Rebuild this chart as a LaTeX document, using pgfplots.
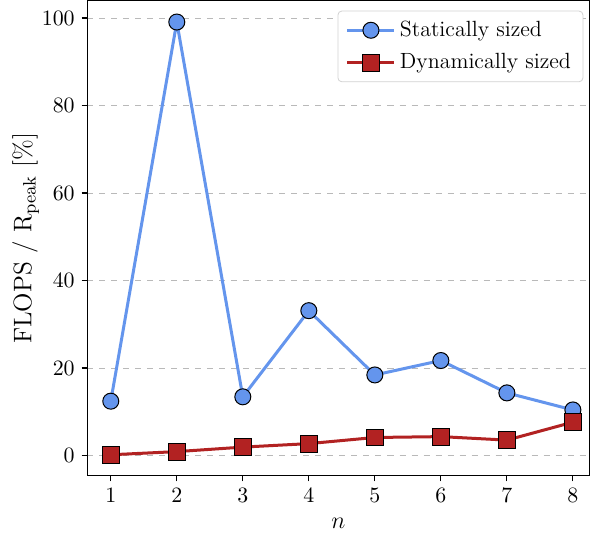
\documentclass[border=0pt]{standalone}
\usepackage{pgfplots}
\pgfplotsset{compat=1.18}
\definecolor{cblue}{RGB}{100,149,237}
\definecolor{cred}{RGB}{178,34,34}
\begin{document}
\begin{tikzpicture}
\begin{axis}[
  scale only axis,
  width=250.9pt, height=237.5pt,
  xmin=0.645, xmax=8.25,
  ymin=-4.67, ymax=104.0,
  xtick={1,2,3,4,5,6,7,8},
  ytick={0,20,40,60,80,100},
  tick align=outside,
  tick pos=left,
  major tick length=2.8pt,
  ymajorgrids,
  grid style={gray!55, dashed, line width=0.4pt},
  axis line style={line width=0.6pt},
  tick style={black, line width=0.6pt},
  ticklabel style={font=\fontsize{10.7}{12}\selectfont},
  xlabel={$n$},
  xlabel style={font=\fontsize{13}{15}\selectfont, at={(axis description cs:0.5,0)}, anchor=center, yshift=-23.5pt},
  ylabel={FLOPS / R$_{\mathrm{peak}}$ [\%]},
  ylabel style={font=\fontsize{12.7}{14}\selectfont, at={(axis description cs:0,0.5)}, anchor=center, yshift=30.8pt},
  legend style={at={(1,1)}, anchor=north east, xshift=-3pt, yshift=-5pt, draw=gray!35, rounded corners=2pt, font=\fontsize{11}{13}\selectfont, row sep=3pt, inner xsep=4pt, inner ysep=3pt, nodes={inner sep=2pt}},
  legend cell align=left,
  legend image code/.code={
    \draw[mark repeat=2,mark phase=2] plot coordinates {(0pt,0pt) (11.75pt,0pt) (23.5pt,0pt)};
  },
  clip=false,
]
\addplot[cblue, line width=1.5pt, mark=*, mark size=4pt, mark options={fill=cblue, draw=black, line width=0.5pt}]
coordinates {(1,12.4) (2,99.1) (3,13.4) (4,33.1) (5,18.4) (6,21.7) (7,14.3) (8,10.4)};
\addlegendentry{Statically sized}
\addplot[cred, line width=1.5pt, mark=square*, mark size=4.2pt, mark options={fill=cred, draw=black, line width=0.5pt}]
coordinates {(1,0.15) (2,0.87) (3,1.9) (4,2.7) (5,4.1) (6,4.3) (7,3.5) (8,7.6)};
\addlegendentry{Dynamically sized}
\end{axis}
\path ([xshift=-43.65pt]current axis.south west) rectangle ([yshift=-28.2pt]current axis.south east);
\end{tikzpicture}
\end{document}
